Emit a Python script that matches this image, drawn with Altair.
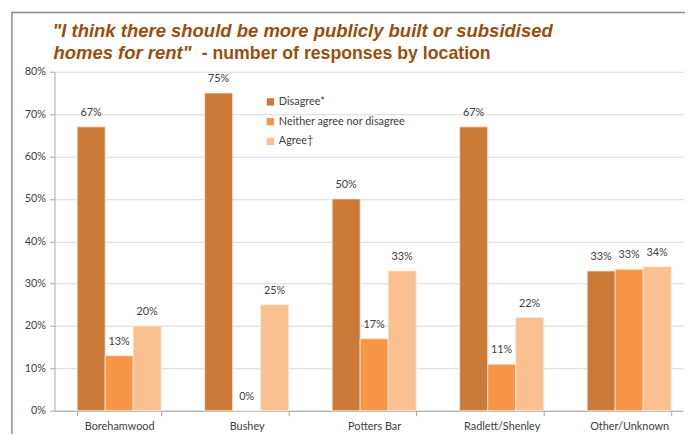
import altair as alt
import pandas as pd

locations = ["Borehamwood", "Bushey", "Potters Bar", "Radlett/Shenley", "Other/Unknown"]
responses = ["Disagree*", "Neither agree nor disagree", "Agree\u2020"]
disagree = [67, 75, 50, 67, 33]
neither = [13, 0, 17, 11, 33.4]
agree = [20, 25, 33, 22, 34]
colors = ["#CC7A38", "#F79646", "#FAC090"]
y_ticks = [0, 10, 20, 30, 40, 50, 60, 70, 80]

rows = []
for i, loc in enumerate(locations):
    for resp, vals in zip(responses, [disagree, neither, agree]):
        v = vals[i]
        rows.append({"location": loc, "response": resp, "value": v,
                     "label": f"{round(v):d}%"})
df = pd.DataFrame(rows)

W, H = 636, 343
FONT = "Lato"

x_enc = alt.X("location:N", sort=locations,
              scale=alt.Scale(paddingInner=0.341, paddingOuter=0.1355, align=0.657),
              axis=alt.Axis(title=None, labelFont=FONT, labelFontSize=11,
                            labelColor="#404040", labelAngle=0, labelPadding=5,
                            tickBand="extent", ticks=True, tickSize=5,
                            tickColor="#A6A6A6", domainColor="#A6A6A6",
                            grid=False))
xo_enc = alt.XOffset("response:N", sort=responses,
                     scale=alt.Scale(paddingInner=0, paddingOuter=0))
y_enc = alt.Y("value:Q", scale=alt.Scale(domain=[0, 80], nice=False),
              axis=alt.Axis(title=None, values=y_ticks,
                            labelExpr="datum.value + '%'",
                            labelFont=FONT, labelFontSize=11, labelColor="#404040",
                            tickSize=5, tickColor="#A6A6A6",
                            domainColor="#A6A6A6", gridColor="#D9D9D9",
                            labelPadding=4))

base = alt.Chart(df)

bars = base.mark_bar(stroke="#FDEBDD", strokeWidth=0.8).encode(
    x=x_enc, xOffset=xo_enc, y=y_enc,
    color=alt.Color("response:N", sort=responses,
                    scale=alt.Scale(domain=responses, range=colors),
                    legend=alt.Legend(title=None, orient="none", legendX=213,
                                      legendY=25, symbolType="square",
                                      symbolSize=55, labelFont=FONT,
                                      labelFontSize=11, labelColor="#404040",
                                      rowPadding=8, symbolStrokeWidth=0,
                                      labelOffset=3)),
)

labels = base.mark_text(dy=-9, font=FONT, fontSize=11, color="#404040",
                        baseline="bottom").encode(
    x=alt.X("location:N", sort=locations), xOffset=xo_enc,
    y=alt.Y("value:Q"), text="label:N",
)

one = alt.Data(values=[{}])

frame = alt.Chart(one).mark_rect(fillOpacity=0, stroke="#8C8C8C",
                                 strokeWidth=1.5, clip=False).encode(
    x=alt.value(-43), x2=alt.value(W + 30), y=alt.value(-60), y2=alt.value(H + 40))

title_color = "#974F0F"
TF = "Liberation Sans"
TS = 18.7
t1 = alt.Chart(one).mark_text(
    text='"I think there should be more publicly built or subsidised',
    font=TF, fontSize=TS, fontWeight=800, fontStyle="italic",
    color=title_color, align="left", baseline="alphabetic").encode(
    x=alt.value(-2), y=alt.value(-35))
t2 = alt.Chart(one).mark_text(
    text='homes for rent"',
    font=TF, fontSize=TS, fontWeight=800, fontStyle="italic",
    color=title_color, align="left", baseline="alphabetic").encode(
    x=alt.value(-1), y=alt.value(-13))
t3 = alt.Chart(one).mark_text(
    text='- number of responses by location',
    font=TF, fontSize=17.9, fontWeight=800,
    color=title_color, align="left", baseline="alphabetic").encode(
    x=alt.value(149), y=alt.value(-13))

chart = alt.layer(frame, bars, labels, t1, t2, t3).properties(
    width=W, height=H,
    autosize=alt.AutoSizeParams(type="none"),
    padding={"left": 47, "top": 62, "right": 2, "bottom": 21},
).configure_view(strokeWidth=0)

chart.save("out.html", embed_options={"renderer": "svg", "actions": False})
